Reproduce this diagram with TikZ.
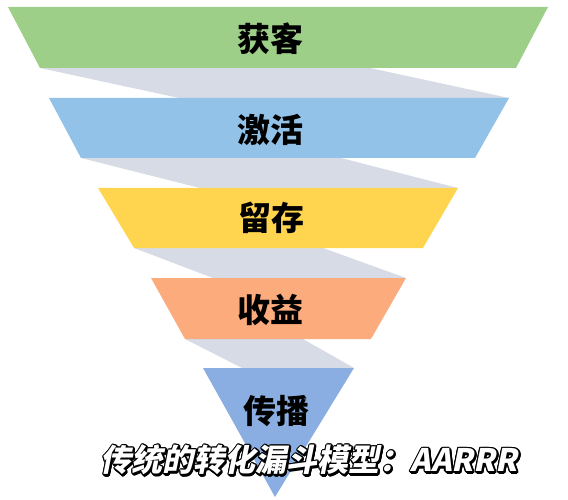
\documentclass[tikz,border=0pt]{standalone}
\usepackage{fontspec}
\setmainfont{Noto Sans CJK SC}
\newfontfamily\capfont[FakeSlant=0.2]{Noto Sans CJK SC}
\usetikzlibrary{calc}
\definecolor{fgreen}{RGB}{158,207,136}
\definecolor{fblue}{RGB}{147,194,232}
\definecolor{fyellow}{RGB}{255,213,80}
\definecolor{forange}{RGB}{252,171,124}
\definecolor{fviolet}{RGB}{139,174,226}
\definecolor{twistgray}{RGB}{214,219,230}
\tikzset{
	stagelabel/.style={font=\fontsize{33}{33}\selectfont\bfseries, text=black, inner sep=0pt},
	captext/.style={font=\capfont\bfseries\fontsize{31}{31}\selectfont, inner sep=0pt}
}
\newcommand{\drawband}[7]{%
	\fill[#1] (#4,#2) -- (#5,#2) -- (#7,#3) -- (#6,#3) -- cycle;
}
\newcommand{\drawtwist}[6]{%
	\fill[twistgray] (#3,#1) -- (#4,#1) -- (#6,#2) -- (#5,#2) -- cycle;
}
\newcommand{\captiontext}{传统的转化漏斗模型：AARRR}

\begin{document}
\begin{tikzpicture}[x=1pt,y=-1pt]
	\useasboundingbox (0,0) rectangle (568,500);
	% grey ribbons behind the bands
	\foreach \yt/\yb/\tl/\tr/\bl/\br in {68/98/40/370/179/509, 158/188/81/341/200/458,
		248/278/134/323/213/406, 339/368/185/303/242/354}{
		\drawtwist{\yt}{\yb}{\tl}{\tr}{\bl}{\br}}
	\drawband{fgreen}{7}{68}{8}{548}{40}{516}
	\drawband{fblue}{98}{158}{49}{509}{81}{475}
	\drawband{fyellow}{188}{248}{98}{458}{134}{423}
	\drawband{forange}{278}{339}{151}{406}{185}{371}
	\fill[fviolet] (203,368) -- (354,368) -- (275,497) -- cycle;
	\foreach \txt/\xx/\yy [count=\i] in {获客/270/39, 激活/270/130, 留存/271/218,
		收益/270/310, 传播/276/411}
		\node[stagelabel] (stage\i) at (\xx,\yy) {\txt};
	% outlined caption
	\foreach \a [count=\i] in {0,30,...,330}{
		\node[captext, text=black] (shade\i) at ($(310,461)+(\a:1.2)$) {\captiontext};
		\node[captext, text=black] (rim\i) at ($(309,460)+(\a:1.2)$) {\captiontext};}
	\node[captext, text=white] (caption) at (309,460) {\captiontext};
\end{tikzpicture}
\end{document}
